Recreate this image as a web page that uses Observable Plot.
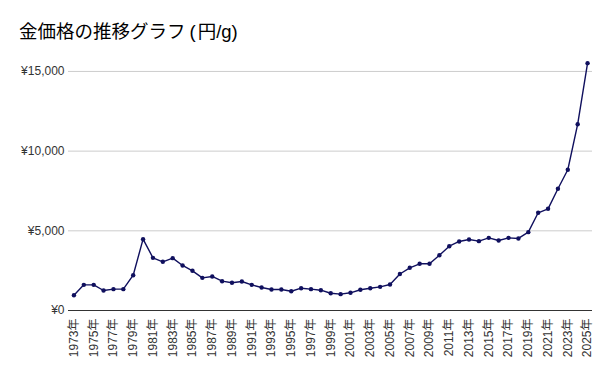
<!DOCTYPE html>
<html><head><meta charset="utf-8">
<script src="https://cdn.jsdelivr.net/npm/d3@7"></script>
<script src="https://cdn.jsdelivr.net/npm/@observablehq/plot@0.6"></script>
<style>
body{margin:0;background:#fff;font-family:"Liberation Sans",Arial,"Noto Sans CJK JP",sans-serif;}
#title{height:40px;padding-left:19px;font-size:18.5px;line-height:1;padding-top:23px;box-sizing:border-box;color:#000;}
#title .p{margin:0 2px 0 4px;}
</style></head><body>
<div id="title">金価格の推移グラフ<span class="p">(</span>円/g)</div>
<div id="chart"></div>
<script>
const years = d3.range(1973, 2026);
const prices = [960,1610,1610,1255,1340,1340,2215,4475,3305,3055,3285,2825,2490,2050,2135,1840,1740,1820,1610,1445,1320,1320,1210,1400,1340,1275,1085,1025,1110,1300,1400,1485,1630,2290,2680,2930,2930,3470,4035,4330,4455,4350,4560,4395,4560,4520,4915,6130,6380,7640,8830,11690,15520];
const yTicks = [0,5000,10000,15000];
const xTicks = d3.range(1973, 2026, 2);
const data = years.map((y,i)=>({year:y, price:prices[i]}));
const chart = Plot.plot({
  width:611, height:335,
  marginLeft:68, marginRight:19, marginTop:15, marginBottom:65,
  style:{fontFamily:'"Liberation Sans",Arial,"Noto Sans CJK JP",sans-serif', fontSize:"12px", color:"#333"},
  x:{domain:[1972.45,2025.5], ticks:xTicks, tickFormat:d=>d+"年", tickRotate:-90, tickSize:0, tickPadding:8, label:null},
  y:{domain:[0,16000], ticks:yTicks, tickFormat:d=>"¥"+d3.format(",")(d), tickSize:0, tickPadding:4, label:null},
  marks:[
    Plot.gridY(yTicks,{stroke:"#ccc", strokeOpacity:1}),
    Plot.ruleY([0],{stroke:"#333", strokeWidth:1}),
    Plot.line(data,{x:"year", y:"price", stroke:"#10105e", strokeWidth:1.4}),
    Plot.dot(data,{x:"year", y:"price", fill:"#10105e", r:2.2})
  ]
});
document.getElementById("chart").appendChild(chart);
</script></body></html>
